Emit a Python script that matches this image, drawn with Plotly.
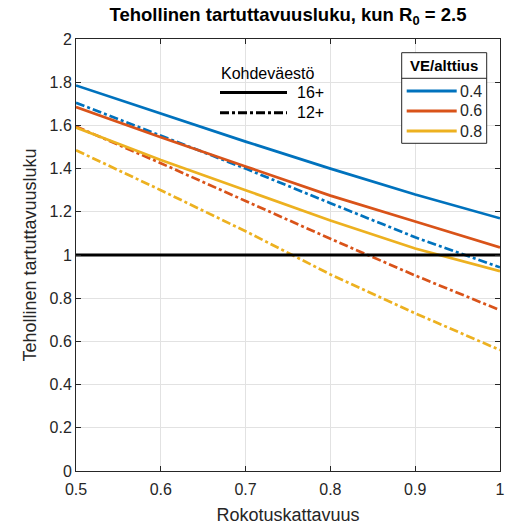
import plotly.graph_objects as go

coverage = [0.5, 0.6, 0.7, 0.8, 0.9, 1.0]

# Kohdeväestö 16+ (solid lines)
r16_ve04 = [1.785, 1.655, 1.525, 1.40, 1.28, 1.17]
r16_ve06 = [1.685, 1.545, 1.41, 1.275, 1.155, 1.035]
r16_ve08 = [1.59, 1.44, 1.30, 1.16, 1.03, 0.925]
# Kohdeväestö 12+ (dash-dot lines)
r12_ve04 = [1.705, 1.553, 1.40, 1.24, 1.082, 0.943]
r12_ve06 = [1.595, 1.425, 1.25, 1.075, 0.905, 0.745]
r12_ve08 = [1.485, 1.30, 1.11, 0.91, 0.73, 0.56]

threshold_x = [0.5, 1.0]
threshold_y = [1, 1]

ve_labels = ["0.4", "0.6", "0.8"]
group_labels = ["16+", "12+"]
group_title = "Kohdeväestö"
ve_title = "VE/alttius"
colors = ["#0072BD", "#D95319", "#EDB120"]

x_ticks = [0.5, 0.6, 0.7, 0.8, 0.9, 1.0]
x_ticktext = ["0.5", "0.6", "0.7", "0.8", "0.9", "1"]
y_ticks = [0, 0.2, 0.4, 0.6, 0.8, 1.0, 1.2, 1.4, 1.6, 1.8, 2.0]
y_ticktext = ["0", "0.2", "0.4", "0.6", "0.8", "1", "1.2", "1.4", "1.6", "1.8", "2"]

FONT = "Liberation Sans, Arial, sans-serif"
LW = 2.7
DASHDOT = "dashdot"

W, H = 506, 525
ML, MR, MT, MB = 76, 6, 39, 54
PW, PH = W - ML - MR, H - MT - MB


def px(x):
    return (x - ML) / PW


def py(y):
    return 1 - (y - MT) / PH


fig = go.Figure()

for ys16, ys12, c in zip([r16_ve04, r16_ve06, r16_ve08],
                         [r12_ve04, r12_ve06, r12_ve08], colors):
    fig.add_trace(go.Scatter(x=coverage, y=ys16, mode="lines",
                             line=dict(color=c, width=LW), showlegend=False))
    fig.add_trace(go.Scatter(x=coverage, y=ys12, mode="lines",
                             line=dict(color=c, width=LW, dash=DASHDOT), showlegend=False))

# threshold line
fig.add_trace(go.Scatter(x=threshold_x, y=threshold_y, mode="lines",
                         line=dict(color="black", width=3), showlegend=False,
                         hoverinfo="skip"))

shapes = []
annotations = []

# ---- Legend: Kohdeväestö (no box)
annotations.append(dict(text=group_title, x=px(219), y=py(73), xref="paper", yref="paper",
                        xanchor="left", yanchor="middle", showarrow=False,
                        font=dict(family=FONT, size=16, color="black")))
for i, (lab, dash) in enumerate(zip(group_labels, ["solid", DASHDOT])):
    yy = 92.5 + i * 20.3
    shapes.append(dict(type="line", xref="paper", yref="paper",
                       x0=px(220), x1=px(287), y0=py(yy), y1=py(yy),
                       line=dict(color="black", width=3, dash=dash)))
    annotations.append(dict(text=lab, x=px(295), y=py(yy), xref="paper", yref="paper",
                            xanchor="left", yanchor="middle", showarrow=False,
                            font=dict(family=FONT, size=16, color="black")))

# ---- Legend: VE/alttius (boxed)
shapes.append(dict(type="rect", xref="paper", yref="paper",
                   x0=px(401.7), x1=px(486.7), y0=py(52.7), y1=py(143.3),
                   fillcolor="white", line=dict(color="#262626", width=1), layer="above"))
shapes.append(dict(type="line", xref="paper", yref="paper",
                   x0=px(401.7), x1=px(486.7), y0=py(78.3), y1=py(78.3),
                   line=dict(color="#262626", width=1), layer="above"))
annotations.append(dict(text="<b>" + ve_title + "</b>", x=px(444.2), y=py(65.5),
                        xref="paper", yref="paper", xanchor="center", yanchor="middle",
                        showarrow=False, font=dict(family=FONT, size=15, color="black")))
for i, (lab, c) in enumerate(zip(ve_labels, colors)):
    yy = 91 + i * 20
    shapes.append(dict(type="line", xref="paper", yref="paper",
                       x0=px(406.7), x1=px(456.7), y0=py(yy), y1=py(yy),
                       line=dict(color=c, width=3), layer="above"))
    annotations.append(dict(text=lab, x=px(457.5), y=py(yy), xref="paper", yref="paper",
                            xanchor="left", yanchor="middle", showarrow=False,
                            font=dict(family=FONT, size=16, color="#262626")))

axis_common = dict(
    showline=True, linecolor="#262626", linewidth=1, mirror="ticks",
    ticks="inside", ticklen=5, tickcolor="#262626",
    showgrid=True, gridcolor="#e2e2e2", gridwidth=1,
    zeroline=False, automargin=False,
    tickfont=dict(family=FONT, size=16, color="#262626"),
)

fig.update_layout(
    width=W, height=H,
    margin=dict(l=ML, r=MR, t=MT, b=MB, autoexpand=False),
    paper_bgcolor="white", plot_bgcolor="white",
    font=dict(family=FONT, color="#262626"),
    showlegend=False,
    title=dict(text="<b>Tehollinen tartuttavuusluku, kun R<sub>0</sub> = 2.5</b>",
               x=0.5, xref="paper", xanchor="center",
               y=1 - 15 / H, yref="container", yanchor="middle",
               font=dict(family=FONT, size=18.5, color="black")),
    xaxis=dict(range=[0.5, 1.0], tickvals=x_ticks, ticktext=x_ticktext,
               ticklabelstandoff=4,
               title=dict(text="Rokotuskattavuus",
                          font=dict(family=FONT, size=18, color="#262626"), standoff=12),
               **axis_common),
    yaxis=dict(range=[0, 2], tickvals=y_ticks, ticktext=y_ticktext,
               title=dict(text="Tehollinen tartuttavuusluku",
                          font=dict(family=FONT, size=18, color="#262626"), standoff=8),
               **axis_common),
    shapes=shapes,
    annotations=annotations,
)

fig.write_html("out.html",
               config={"displayModeBar": False},
               post_script="document.body.style.margin='0';document.body.style.overflow='hidden';")
